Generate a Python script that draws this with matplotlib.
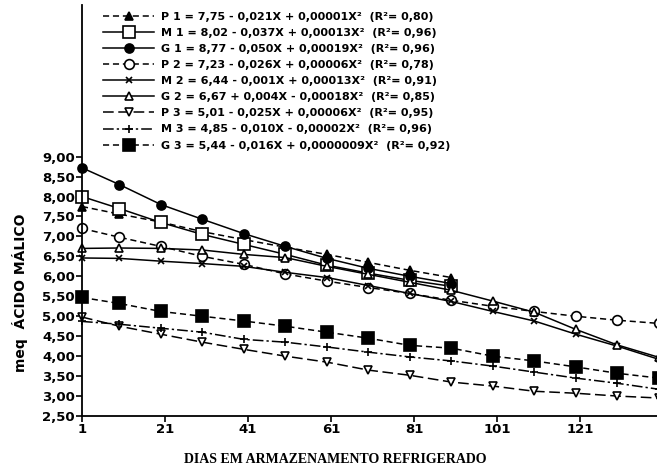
import matplotlib
matplotlib.use("Agg")
import matplotlib.pyplot as plt

# sampling days (refrigerated storage)
days = [1, 10, 20, 30, 40, 50, 60, 70, 80, 90, 100, 110, 120, 130, 140]

# meq acido malico
p1 = [7.75, 7.56, 7.36, 7.12, 6.92, 6.73, 6.55, 6.35, 6.15, 5.97]
m1 = [8.00, 7.70, 7.35, 7.05, 6.80, 6.55, 6.28, 6.08, 5.90, 5.75]
g1 = [8.72, 8.30, 7.80, 7.43, 7.07, 6.75, 6.45, 6.20, 6.00, 5.82]
p2 = [7.20, 6.98, 6.75, 6.50, 6.30, 6.06, 5.88, 5.72, 5.57, 5.40,
      5.25, 5.12, 5.00, 4.90, 4.82]
m2 = [6.46, 6.45, 6.38, 6.32, 6.25, 6.10, 5.97, 5.77, 5.57, 5.37,
      5.12, 4.88, 4.55, 4.25, 3.92]
g2 = [6.70, 6.71, 6.70, 6.66, 6.55, 6.47, 6.25, 6.05, 5.85, 5.65,
      5.38, 5.10, 4.67, 4.28, 3.97]
p3 = [4.98, 4.75, 4.55, 4.35, 4.17, 4.00, 3.85, 3.65, 3.52, 3.35,
      3.25, 3.12, 3.07, 3.00, 2.95]
m3 = [4.87, 4.80, 4.70, 4.60, 4.42, 4.35, 4.23, 4.10, 3.98, 3.88,
      3.75, 3.60, 3.45, 3.32, 3.17]
g3 = [5.47, 5.32, 5.12, 5.00, 4.88, 4.75, 4.60, 4.45, 4.27, 4.20,
      4.00, 3.88, 3.73, 3.57, 3.45]

labels = [
    "P 1 = 7,75 - 0,021X + 0,00001X²  (R²= 0,80)",
    "M 1 = 8,02 - 0,037X + 0,00013X²  (R²= 0,96)",
    "G 1 = 8,77 - 0,050X + 0,00019X²  (R²= 0,96)",
    "P 2 = 7,23 - 0,026X + 0,00006X²  (R²= 0,78)",
    "M 2 = 6,44 - 0,001X + 0,00013X²  (R²= 0,91)",
    "G 2 = 6,67 + 0,004X - 0,00018X²  (R²= 0,85)",
    "P 3 = 5,01 - 0,025X + 0,00006X²  (R²= 0,95)",
    "M 3 = 4,85 - 0,010X - 0,00002X²  (R²= 0,96)",
    "G 3 = 5,44 - 0,016X + 0,0000009X²  (R²= 0,92)",
]

yticks = [2.5, 3.0, 3.5, 4.0, 4.5, 5.0, 5.5, 6.0, 6.5, 7.0, 7.5, 8.0, 8.5, 9.0]
xticks = [1, 21, 41, 61, 81, 101, 121]

# style per series: marker, size, filled, dashes (None = solid)
styles = [
    ("^", 6, True, (4, 2.5)),
    ("s", 8, False, None),
    ("o", 6.5, True, None),
    ("o", 7, False, (4, 2.5)),
    ("x", 5, False, None),
    ("^", 6, False, None),
    ("v", 6, False, (7, 3)),
    ("+", 6, False, (7, 2, 1.5, 2)),
    ("s", 8, True, (4, 2.5)),
]
series = [p1, m1, g1, p2, m2, g2, p3, m3, g3]

fig = plt.figure(figsize=(6.57, 4.68), dpi=100)
ax = fig.add_axes([82 / 657, 52 / 468, 575 / 657, 411 / 468])

for vals, lab, (mk, ms, filled, dash) in zip(series, labels, styles):
    x = days[:len(vals)]
    line, = ax.plot(x, vals, color="black", lw=1.1, marker=mk, markersize=ms,
                    markerfacecolor="black" if filled else "white",
                    markeredgecolor="black", markeredgewidth=1.2,
                    label=lab, clip_on=False)
    if dash is not None:
        line.set_dashes(dash)

ax.set_xlim(1, 139.55)
ax.set_ylim(2.5, 12.8)
ax.set_yticks(yticks)
ax.set_yticklabels([f"{v:.2f}".replace(".", ",") for v in yticks])
ax.set_xticks(xticks)
ax.set_xticklabels([str(v) for v in xticks])
for s in ["top", "right"]:
    ax.spines[s].set_visible(False)
for s in ["left", "bottom"]:
    ax.spines[s].set_linewidth(1.3)
ax.tick_params(axis="both", direction="out", length=4, width=1.2,
               labelsize=9.5, pad=1)
for t in ax.get_xticklabels() + ax.get_yticklabels():
    t.set_fontweight("bold")

ax.set_ylabel("meq  ÁCIDO MÁLICO", fontsize=10, fontweight="bold")
ax.yaxis.set_label_coords(-0.094, 0.30)
fig.text(0.51, 0.005, "DIAS EM ARMAZENAMENTO REFRIGERADO",
         ha="center", va="bottom", fontsize=10, fontweight="bold",
         family="Liberation Serif")

leg = ax.legend(loc="upper left", bbox_to_anchor=(0.025, 1.0), frameon=False,
                handlelength=4.6, handletextpad=0.6, labelspacing=0.55,
                borderaxespad=0.2, prop={"size": 8, "weight": "bold"})

fig.savefig("out.png", dpi=100)
